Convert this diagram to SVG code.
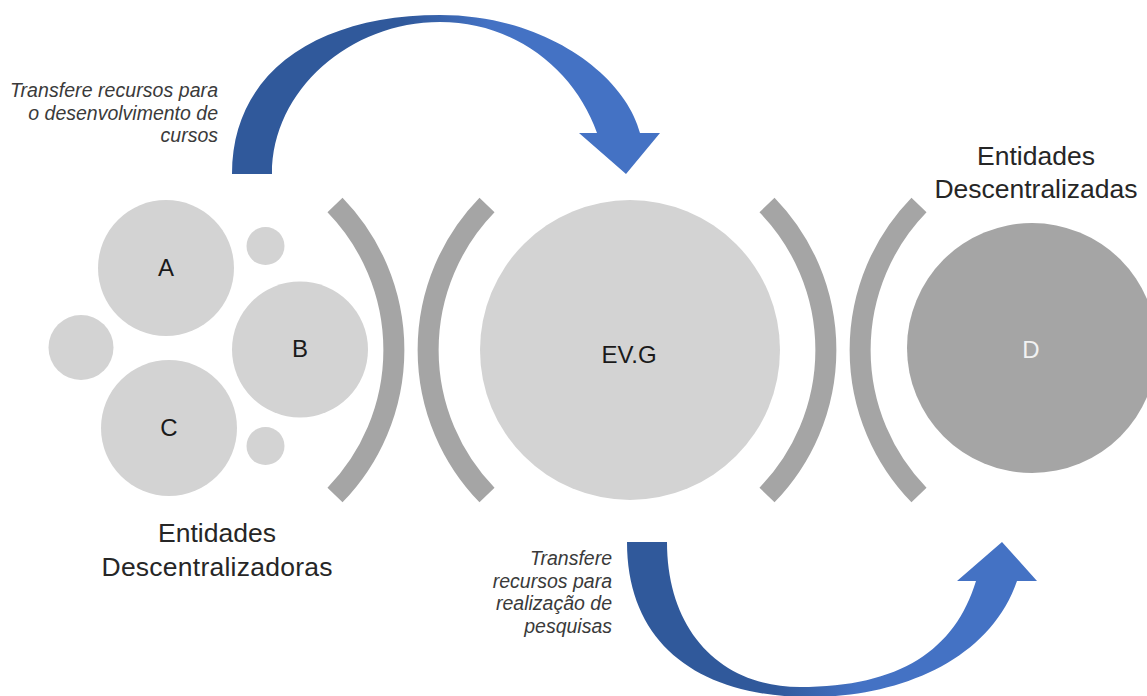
<svg xmlns="http://www.w3.org/2000/svg" width="1147" height="696" viewBox="0 0 1147 696">
  <defs>
    <linearGradient id="gradTop" gradientUnits="userSpaceOnUse" x1="232" y1="0" x2="660" y2="0">
      <stop offset="0.40" stop-color="#30599B"/>
      <stop offset="0.60" stop-color="#4472C4"/>
    </linearGradient>
    <linearGradient id="gradBottom" gradientUnits="userSpaceOnUse" x1="627" y1="0" x2="1037" y2="0">
      <stop offset="0.36" stop-color="#30599B"/>
      <stop offset="0.56" stop-color="#4472C4"/>
    </linearGradient>
  </defs>
  <style>
    .light { fill: #D3D3D3; }
    .dark { fill: #A5A5A5; }
    .bracket { fill: none; stroke: #A5A5A5; stroke-width: 21; stroke-linecap: butt; }
    .lbl { font-family: "Liberation Sans", Arial, sans-serif; font-size: 24px; fill: #1A1A1A; text-anchor: middle; }
    .title { font-family: "Liberation Sans", Arial, sans-serif; font-size: 26.5px; fill: #262626; text-anchor: middle; }
    .note { font-family: "Liberation Sans", Arial, sans-serif; font-size: 19.5px; font-style: italic; fill: #3A3A3A; text-anchor: end; }
  </style>

  <rect width="1147" height="696" fill="#FFFFFF"/>

  <!-- decentralizing entities cluster -->
  <g id="cluster-small">
    <circle class="light" cx="265.5" cy="246" r="19"/>
    <circle class="light" cx="81" cy="347.5" r="32.5"/>
    <circle class="light" cx="265.5" cy="446" r="19"/>
  </g>
  <g id="node-A">
    <circle class="light" cx="166" cy="268" r="68"/>
    <text class="lbl" x="166" y="276">A</text>
  </g>
  <g id="node-B">
    <circle class="light" cx="300" cy="349.5" r="68"/>
    <text class="lbl" x="300" y="357">B</text>
  </g>
  <g id="node-C">
    <circle class="light" cx="169" cy="428" r="68"/>
    <text class="lbl" x="169" y="436">C</text>
  </g>
  <g id="label-descentralizadoras">
    <text class="title" x="217" y="542">Entidades</text>
    <text class="title" x="217" y="576" textLength="231">Descentralizadoras</text>
  </g>

  <!-- central entity -->
  <g id="node-EVG">
    <circle class="light" cx="630" cy="350" r="150"/>
    <text class="lbl" x="629" y="363">EV.G</text>
  </g>

  <!-- decentralized entity -->
  <g id="node-D">
    <circle class="dark" cx="1032" cy="348" r="125"/>
    <text class="lbl" x="1031" y="358" style="fill:#F2F2F2">D</text>
  </g>
  <g id="label-descentralizadas">
    <text class="title" x="1036" y="165">Entidades</text>
    <text class="title" x="1036" y="198" textLength="203">Descentralizadas</text>
  </g>

  <!-- bracket arcs between the groups -->
  <g id="brackets">
    <path class="bracket" d="M335,205 A208,208 0 0 1 335,495"/>
    <path class="bracket" d="M487,205 A208,208 0 0 0 487,495"/>
    <path class="bracket" d="M767,205 A208,208 0 0 1 767,495"/>
    <path class="bracket" d="M919,205 A208,208 0 0 0 919,495"/>
  </g>

  <!-- curved transfer arrows -->
  <g id="connectors">
    <path id="arrow-top" fill="url(#gradTop)"
          d="M232,174 C232,70 320,15 440,15 C545,15 625,75 640,133 L660,133 L626,174 L579,133 L597,133 C575,70 515,22 440,22 C350,22 272,90 272,174 Z"/>
    <path id="arrow-bottom" fill="url(#gradBottom)"
          d="M627,542 C627,645 700,697 810,697 C900,697 990,660 1017,581 L1037,581 L1002,542 L957,581 L976,581 C955,650 900,687 800,687 C720,687 667,630 667,542 Z"/>
    <g id="note-top">
      <text class="note" x="218" y="97" textLength="208">Transfere recursos para</text>
      <text class="note" x="218" y="120">o desenvolvimento de</text>
      <text class="note" x="218" y="142">cursos</text>
    </g>
    <g id="note-bottom">
      <text class="note" x="612" y="565">Transfere</text>
      <text class="note" x="612" y="588">recursos para</text>
      <text class="note" x="612" y="610">realização de</text>
      <text class="note" x="612" y="633">pesquisas</text>
    </g>
  </g>
</svg>
